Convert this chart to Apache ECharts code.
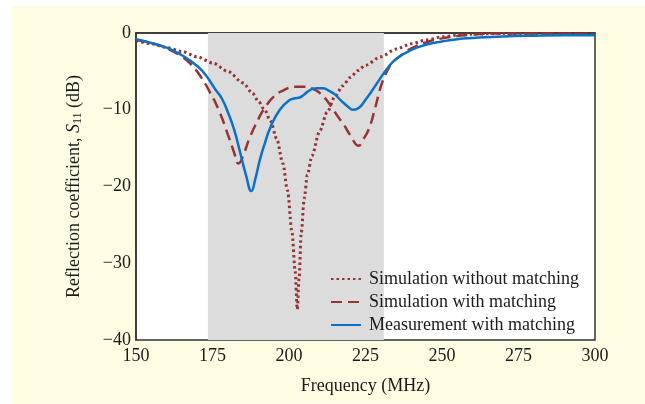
<!DOCTYPE html>
<html>
<head>
<meta charset="utf-8">
<script src="https://cdn.jsdelivr.net/npm/echarts@6/dist/echarts.min.js"></script>
<style>
  html, body { margin: 0; padding: 0; background: #fff; }
  #main { width: 645px; height: 404px; }
</style>
</head>
<body>
<div id="main"></div>
<script>
// simulation without matching
var noMatchFreq = [150, 155, 160, 165, 170, 175, 180, 185, 188, 190, 192, 194, 196, 198, 199.5, 201, 202, 202.7, 203.3, 204, 205, 206, 207.5, 210, 212.5, 215, 217.5, 220, 222.5, 225, 230, 235, 240, 245, 250, 255, 260, 270, 280, 290, 300];
var noMatchS11 = [-1.0, -1.4, -1.9, -2.4, -3.1, -3.9, -5.0, -6.5, -7.8, -8.9, -10.0, -11.5, -13.8, -17.0, -20.5, -26, -31, -36, -32, -26, -21.5, -18.5, -16, -12.8, -10.3, -8.3, -6.9, -5.8, -4.9, -4.2, -3.1, -2.1, -1.4, -0.9, -0.5, -0.3, -0.15, -0.05, -0.05, -0.1, -0.2];

// simulation with matching
var simMatchFreq = [150, 155, 160, 165, 168, 171, 174, 177, 180, 182, 183.5, 185, 187, 190, 192, 195, 198, 202, 205, 208, 210, 212, 214, 216, 218, 220, 222.8, 224, 226, 228, 230, 232, 234, 237, 240, 245, 250, 255, 260, 270, 280, 290, 300];
var simMatchS11 = [-0.9, -1.3, -2.0, -3.1, -4.1, -5.6, -7.6, -10.0, -13.2, -15.5, -17.0, -16.0, -13.8, -11.2, -9.8, -8.3, -7.5, -7.0, -7.0, -7.3, -7.8, -8.6, -9.7, -10.9, -12.0, -13.3, -14.7, -14.0, -12.6, -10.0, -7.0, -5.0, -3.8, -2.8, -2.0, -1.2, -0.7, -0.4, -0.2, -0.05, -0.05, -0.1, -0.15];

// measurement with matching
var measFreq = [150, 155, 160, 165, 170, 173, 176, 178, 180, 182, 184, 186, 187.7, 189, 190.5, 192, 194, 197, 200, 202, 203.5, 205, 207, 209, 211, 213, 215, 217, 219, 221, 223, 225, 227, 229, 232, 235, 240, 245, 250, 255, 260, 270, 280, 290, 300];
var measS11 = [-0.8, -1.3, -1.9, -2.9, -4.3, -5.6, -7.4, -8.5, -10.3, -12.5, -15.5, -18.6, -20.6, -19.0, -16.5, -14.5, -12.2, -10.0, -8.8, -8.5, -8.4, -8.0, -7.4, -7.2, -7.2, -7.5, -8.0, -8.8, -9.5, -10.0, -9.7, -8.7, -7.6, -6.4, -4.7, -3.4, -2.2, -1.5, -1.1, -0.8, -0.65, -0.45, -0.35, -0.3, -0.3];

var bandStart = 173.5;
var bandEnd = 231;

function pairs(xs, ys) {
    return xs.map(function (x, i) { return [x, ys[i]]; });
}

var chart = echarts.init(document.getElementById('main'));
var serif = 'Liberation Serif';
var red = '#983333';
var blue = '#0a72c6';
var fs = 18;

var option = {
    backgroundColor: '#ffffff',
    animation: false,
    graphic: [{
        type: 'rect',
        z: -10,
        shape: { x: 12, y: 6, width: 633, height: 398 },
        style: { fill: '#fefde4' },
        silent: true
    }],
    grid: {
        left: 136,
        right: 50,
        top: 33,
        bottom: 64,
        show: true,
        backgroundColor: '#ffffff',
        borderColor: '#333333',
        borderWidth: 1.5
    },
    legend: {
        orient: 'vertical',
        left: 325,
        top: 265,
        itemWidth: 30,
        itemHeight: 14,
        itemGap: 5,
        itemStyle: { opacity: 0 },
        textStyle: { fontFamily: serif, fontSize: fs, color: '#1a1a1a', padding: [0, 0, 0, 3] },
        data: ['Simulation without matching', 'Simulation with matching', 'Measurement with matching']
    },
    xAxis: {
        type: 'value',
        min: 150,
        max: 300,
        interval: 25,
        name: 'Frequency (MHz)',
        nameLocation: 'middle',
        nameGap: 37,
        nameTextStyle: { fontFamily: serif, fontSize: fs, color: '#1a1a1a' },
        axisLine: { show: true, lineStyle: { color: '#333', width: 1.5 } },
        axisTick: { show: false },
        splitLine: { show: false },
        axisLabel: { fontFamily: serif, fontSize: fs, color: '#1a1a1a', margin: 7 }
    },
    yAxis: {
        type: 'value',
        min: -40,
        max: 0,
        interval: 10,
        name: '{t|Reflection coefficient, }{i|S}{s|11}{t| (dB)}',
        nameLocation: 'middle',
        nameGap: 52,
        nameTextStyle: {
            rich: {
                t: { fontFamily: serif, fontSize: fs, color: '#1a1a1a' },
                i: { fontFamily: serif, fontSize: fs, fontStyle: 'italic', color: '#1a1a1a' },
                s: { fontFamily: serif, fontSize: 12, color: '#1a1a1a', padding: [7, 0, 0, 0] }
            }
        },
        axisLine: { show: true, lineStyle: { color: '#333', width: 1.5 } },
        axisTick: { show: false },
        splitLine: { show: false },
        axisLabel: {
            fontFamily: serif, fontSize: fs, color: '#1a1a1a', margin: 5,
            formatter: function (v) { return v < 0 ? '\u2212' + (-v) : String(v); }
        }
    },
    series: [
        {
            name: 'Simulation without matching',
            type: 'line',
            data: pairs(noMatchFreq, noMatchS11),
            smooth: 0.3,
            smoothMonotone: 'x',
            showSymbol: false,
            symbol: 'none',
            color: red,
            lineStyle: { color: red, width: 3, type: [2.5, 3] },
            markArea: {
                silent: true,
                itemStyle: { color: '#dcdcdc' },
                data: [[{ xAxis: bandStart }, { xAxis: bandEnd }]]
            },
            z: 3
        },
        {
            name: 'Simulation with matching',
            type: 'line',
            data: pairs(simMatchFreq, simMatchS11),
            smooth: 0.5,
            showSymbol: false,
            symbol: 'none',
            color: red,
            lineStyle: { color: red, width: 2.5, type: [11, 6] },
            z: 4
        },
        {
            name: 'Measurement with matching',
            type: 'line',
            data: pairs(measFreq, measS11),
            smooth: 0.5,
            showSymbol: false,
            symbol: 'none',
            color: blue,
            lineStyle: { color: blue, width: 2.5 },
            z: 5
        }
    ]
};
option && chart.setOption(option);
</script>
</body>
</html>
